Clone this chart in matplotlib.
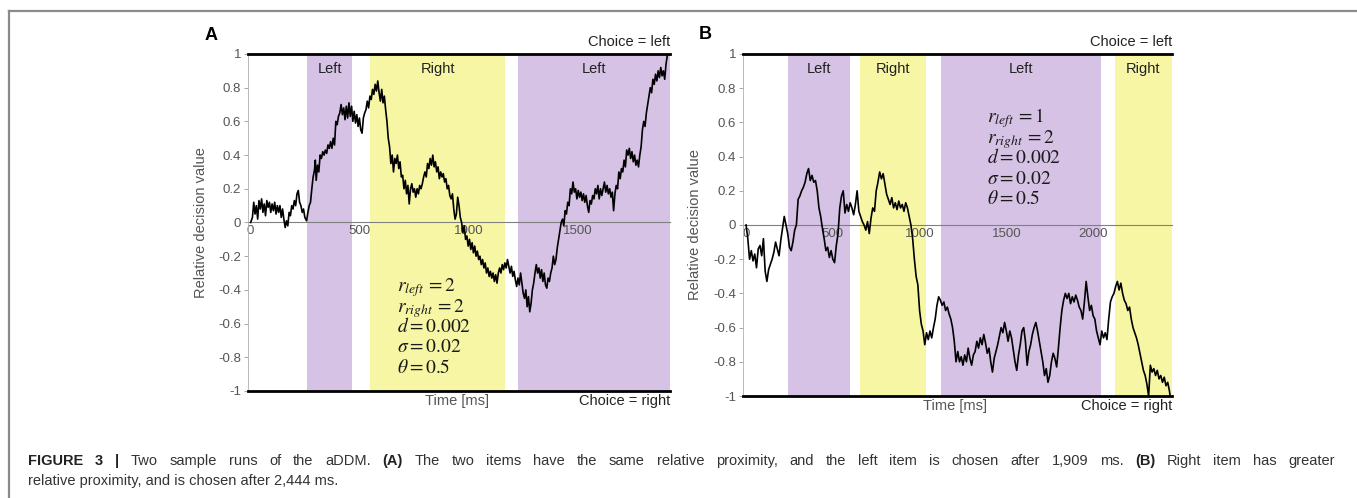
import matplotlib
matplotlib.use("Agg")
import matplotlib.pyplot as plt
from matplotlib.lines import Line2D

plt.rcParams["font.family"] = ["Liberation Sans", "DejaVu Sans"]
plt.rcParams["mathtext.fontset"] = "stix"

# ---- panel A: equal proximity, left chosen after 1909 ms ----
a_ms = [
    0, 8, 14, 20, 26, 32, 38, 44, 50, 56,
    62, 68, 74, 80, 86, 92, 98, 104, 110, 116,
    122, 128, 134, 140, 146, 152, 158, 164, 170, 176,
    182, 188, 194, 200, 206, 212, 218, 224, 230, 236,
    242, 248, 256, 262, 268, 274, 280, 286, 292, 296,
    300, 306, 312, 318, 324, 330, 336, 342, 348, 354,
    360, 366, 372, 378, 384, 390, 396, 402, 408, 414,
    420, 426, 432, 438, 444, 450, 456, 462, 468, 474,
    480, 486, 492, 498, 504, 510, 516, 522, 528, 534,
    540, 546, 552, 558, 564, 570, 576, 582, 588, 594,
    600, 606, 612, 618, 624, 630, 636, 642, 648, 654,
    660, 666, 672, 678, 684, 690, 696, 702, 708, 714,
    720, 726, 732, 738, 744, 750, 756, 762, 768, 774,
    780, 786, 792, 798, 804, 810, 816, 822, 828, 834,
    840, 846, 852, 858, 864, 870, 876, 882, 888, 894,
    900, 906, 912, 918, 924, 930, 936, 942, 948, 954,
    960, 966, 972, 978, 984, 990, 996, 1002, 1008, 1014,
    1020, 1026, 1032, 1038, 1044, 1050, 1056, 1062, 1068, 1074,
    1080, 1086, 1092, 1098, 1104, 1110, 1116, 1122, 1128, 1134,
    1140, 1146, 1152, 1158, 1164, 1170, 1176, 1182, 1188, 1194,
    1200, 1206, 1212, 1218, 1224, 1230, 1236, 1242, 1248, 1254,
    1260, 1266, 1272, 1278, 1284, 1290, 1296, 1302, 1308, 1314,
    1320, 1326, 1332, 1338, 1344, 1350, 1356, 1362, 1368, 1374,
    1380, 1386, 1392, 1398, 1404, 1410, 1416, 1422, 1428, 1434,
    1440, 1446, 1452, 1458, 1464, 1470, 1476, 1482, 1488, 1494,
    1500, 1506, 1512, 1518, 1524, 1530, 1536, 1542, 1548, 1554,
    1560, 1566, 1572, 1578, 1584, 1590, 1596, 1602, 1608, 1614,
    1620, 1626, 1632, 1638, 1644, 1650, 1656, 1662, 1668, 1674,
    1680, 1686, 1692, 1698, 1704, 1710, 1716, 1722, 1728, 1734,
    1740, 1746, 1752, 1758, 1764, 1770, 1776, 1782, 1788, 1794,
    1800, 1806, 1812, 1818, 1824, 1830, 1836, 1842, 1848, 1854,
    1860, 1866, 1872, 1878, 1884, 1890, 1896, 1902, 1909,
]
a_rdv = [
    0.00, 0.03, 0.12, 0.05, 0.10, 0.02, 0.13, 0.08, 0.14, 0.06,
    0.11, 0.04, 0.13, 0.09, 0.12, 0.06, 0.11, 0.07, 0.12, 0.05,
    0.10, 0.06, 0.10, 0.03, 0.08, 0.02, -0.03, 0.01, -0.02, 0.06,
    0.04, 0.10, 0.08, 0.13, 0.10, 0.17, 0.19, 0.12, 0.10, 0.06,
    0.08, 0.03, 0.01, 0.06, 0.10, 0.12, 0.20, 0.27, 0.31, 0.37,
    0.25, 0.34, 0.30, 0.40, 0.38, 0.42, 0.40, 0.43, 0.41, 0.46,
    0.44, 0.48, 0.44, 0.50, 0.46, 0.60, 0.58, 0.63, 0.65, 0.70,
    0.64, 0.68, 0.61, 0.69, 0.62, 0.71, 0.63, 0.69, 0.60, 0.66,
    0.59, 0.64, 0.57, 0.62, 0.55, 0.53, 0.62, 0.65, 0.67, 0.72,
    0.68, 0.75, 0.73, 0.79, 0.76, 0.82, 0.78, 0.84, 0.77, 0.72,
    0.79, 0.71, 0.75, 0.67, 0.60, 0.50, 0.45, 0.35, 0.40, 0.30,
    0.38, 0.35, 0.40, 0.32, 0.36, 0.27, 0.28, 0.20, 0.25, 0.17,
    0.22, 0.11, 0.20, 0.23, 0.18, 0.20, 0.15, 0.20, 0.17, 0.22,
    0.20, 0.23, 0.27, 0.30, 0.27, 0.35, 0.32, 0.38, 0.34, 0.40,
    0.33, 0.36, 0.30, 0.33, 0.26, 0.30, 0.27, 0.29, 0.24, 0.26,
    0.20, 0.22, 0.16, 0.14, 0.17, 0.08, 0.02, 0.05, 0.15, 0.10,
    0.03, 0.00, -0.06, -0.02, -0.10, -0.08, -0.14, -0.10, -0.16, -0.12,
    -0.18, -0.14, -0.20, -0.17, -0.22, -0.20, -0.25, -0.22, -0.27, -0.24,
    -0.30, -0.27, -0.32, -0.29, -0.33, -0.30, -0.35, -0.31, -0.36, -0.30,
    -0.27, -0.30, -0.25, -0.28, -0.24, -0.27, -0.22, -0.26, -0.30, -0.26,
    -0.32, -0.29, -0.34, -0.38, -0.33, -0.37, -0.30, -0.36, -0.42, -0.45,
    -0.40, -0.50, -0.44, -0.53, -0.48, -0.40, -0.36, -0.30, -0.25, -0.30,
    -0.27, -0.33, -0.28, -0.35, -0.30, -0.37, -0.39, -0.33, -0.35, -0.30,
    -0.27, -0.20, -0.25, -0.22, -0.15, -0.10, -0.05, 0.00, 0.02, -0.02,
    0.07, 0.05, 0.12, 0.10, 0.20, 0.17, 0.24, 0.18, 0.20, 0.14,
    0.19, 0.15, 0.18, 0.13, 0.17, 0.12, 0.16, 0.10, 0.06, 0.13,
    0.11, 0.16, 0.14, 0.20, 0.17, 0.22, 0.14, 0.20, 0.16, 0.20,
    0.24, 0.18, 0.22, 0.17, 0.20, 0.15, 0.18, 0.07, 0.17, 0.22,
    0.20, 0.30, 0.26, 0.32, 0.30, 0.37, 0.33, 0.43, 0.40, 0.44,
    0.38, 0.42, 0.36, 0.40, 0.34, 0.37, 0.33, 0.40, 0.45, 0.55,
    0.60, 0.57, 0.65, 0.70, 0.75, 0.80, 0.77, 0.85, 0.82, 0.88,
    0.84, 0.90, 0.86, 0.92, 0.87, 0.90, 0.85, 0.94, 1.00,
]
a_fix_start = [256, 547, 1224]
a_fix_end = [466, 1166, 1920]
a_fix_item = ["Left", "Right", "Left"]
a_xticks = [0, 500, 1000, 1500]
a_params = [r"$r_{left}\,=2$", r"$r_{right}\,=2$", r"$d=0.002$",
            r"$\sigma=0.02$", r"$\theta=0.5$"]

# ---- panel B: right item closer, right chosen after 2444 ms ----
b_ms = [
    0, 10, 20, 30, 40, 50, 60, 70, 80, 90,
    100, 110, 120, 130, 140, 150, 160, 170, 180, 190,
    200, 210, 220, 230, 240, 250, 260, 270, 280, 290,
    300, 310, 320, 330, 340, 350, 360, 370, 380, 390,
    400, 410, 420, 430, 440, 450, 460, 470, 480, 490,
    500, 510, 520, 530, 540, 550, 560, 570, 580, 590,
    600, 610, 620, 630, 640, 650, 660, 670, 680, 690,
    700, 710, 720, 730, 740, 750, 760, 770, 780, 790,
    800, 810, 820, 830, 840, 850, 860, 870, 880, 890,
    900, 910, 920, 930, 940, 950, 960, 970, 980, 990,
    1000, 1010, 1020, 1030, 1040, 1050, 1060, 1070, 1080, 1090,
    1100, 1110, 1120, 1130, 1140, 1150, 1160, 1170, 1180, 1190,
    1200, 1210, 1220, 1230, 1240, 1250, 1260, 1270, 1280, 1290,
    1300, 1310, 1320, 1330, 1340, 1350, 1360, 1370, 1380, 1390,
    1400, 1410, 1420, 1430, 1440, 1450, 1460, 1470, 1480, 1490,
    1500, 1510, 1520, 1530, 1540, 1550, 1560, 1570, 1580, 1590,
    1600, 1610, 1620, 1630, 1640, 1650, 1660, 1670, 1680, 1690,
    1700, 1710, 1720, 1730, 1740, 1750, 1760, 1770, 1780, 1790,
    1800, 1810, 1820, 1830, 1840, 1850, 1860, 1870, 1880, 1890,
    1900, 1910, 1920, 1930, 1940, 1950, 1960, 1970, 1980, 1990,
    2000, 2010, 2020, 2030, 2040, 2050, 2060, 2070, 2080, 2090,
    2100, 2110, 2120, 2130, 2140, 2150, 2160, 2170, 2180, 2190,
    2200, 2210, 2220, 2230, 2240, 2250, 2260, 2270, 2280, 2290,
    2300, 2310, 2320, 2330, 2340, 2350, 2360, 2370, 2380, 2390,
    2400, 2410, 2420, 2430, 2440, 2444,
]
b_rdv = [
    0.00, -0.08, -0.20, -0.15, -0.21, -0.17, -0.25, -0.14, -0.12, -0.18,
    -0.08, -0.27, -0.33, -0.26, -0.23, -0.20, -0.16, -0.10, -0.14, -0.18,
    -0.09, -0.02, 0.05, 0.00, -0.05, -0.13, -0.15, -0.10, -0.03, 0.00,
    0.15, 0.17, 0.20, 0.22, 0.25, 0.30, 0.33, 0.26, 0.29, 0.25,
    0.26, 0.20, 0.10, 0.05, -0.02, -0.08, -0.15, -0.13, -0.19, -0.15,
    -0.20, -0.22, -0.12, -0.05, 0.10, 0.17, 0.20, 0.07, 0.12, 0.08,
    0.13, 0.10, 0.06, 0.12, 0.20, 0.08, 0.05, 0.02, 0.00, -0.03,
    0.02, -0.05, 0.04, 0.10, 0.08, 0.20, 0.25, 0.31, 0.27, 0.30,
    0.24, 0.18, 0.15, 0.12, 0.16, 0.10, 0.13, 0.09, 0.14, 0.10,
    0.12, 0.08, 0.13, 0.10, 0.05, 0.00, -0.08, -0.20, -0.30, -0.35,
    -0.50, -0.58, -0.62, -0.70, -0.63, -0.67, -0.62, -0.66, -0.60, -0.55,
    -0.47, -0.42, -0.44, -0.47, -0.45, -0.50, -0.48, -0.52, -0.55, -0.60,
    -0.68, -0.80, -0.74, -0.80, -0.77, -0.82, -0.76, -0.80, -0.72, -0.78,
    -0.82, -0.76, -0.74, -0.68, -0.72, -0.66, -0.70, -0.64, -0.69, -0.75,
    -0.72, -0.80, -0.86, -0.78, -0.74, -0.70, -0.65, -0.60, -0.63, -0.57,
    -0.62, -0.68, -0.62, -0.66, -0.73, -0.80, -0.85, -0.76, -0.70, -0.62,
    -0.60, -0.68, -0.82, -0.74, -0.70, -0.64, -0.60, -0.57, -0.62, -0.68,
    -0.74, -0.80, -0.88, -0.84, -0.92, -0.88, -0.80, -0.75, -0.78, -0.83,
    -0.72, -0.60, -0.50, -0.44, -0.40, -0.43, -0.40, -0.46, -0.42, -0.45,
    -0.41, -0.44, -0.48, -0.50, -0.55, -0.45, -0.33, -0.42, -0.50, -0.47,
    -0.53, -0.55, -0.62, -0.66, -0.70, -0.62, -0.66, -0.63, -0.67, -0.55,
    -0.45, -0.42, -0.40, -0.36, -0.33, -0.38, -0.34, -0.40, -0.44, -0.46,
    -0.50, -0.48, -0.55, -0.60, -0.63, -0.66, -0.70, -0.75, -0.80, -0.85,
    -0.88, -0.93, -1.00, -0.82, -0.86, -0.84, -0.88, -0.85, -0.90, -0.88,
    -0.92, -0.89, -0.94, -0.92, -0.97, -1.00,
]
b_fix_start = [243, 659, 1123, 2126]
b_fix_end = [601, 1036, 2044, 2455]
b_fix_item = ["Left", "Right", "Left", "Right"]
b_xticks = [0, 500, 1000, 1500, 2000]
b_params = [r"$r_{left}\,=1$", r"$r_{right}\,=2$", r"$d=0.002$",
            r"$\sigma=0.02$", r"$\theta=0.5$"]

yticks = [1, 0.8, 0.6, 0.4, 0.2, 0, -0.2, -0.4, -0.6, -0.8, -1]
ytick_labels = ["1", "0.8", "0.6", "0.4", "0.2", "0",
                "-0.2", "-0.4", "-0.6", "-0.8", "-1"]

fix_color = {"Left": "#d5c2e4", "Right": "#f7f6a4"}
grey_txt = "#555555"


def draw_panel(ax, ms, rdv, starts, ends, items, xticks, xlim,
               params, param_xy, letter):
    for s, e, it in zip(starts, ends, items):
        ax.axvspan(s, e, color=fix_color[it], lw=0, zorder=0)
        ax.text((s + e) / 2, 0.91, it, ha="center", va="center",
                fontsize=10.5, color="#222222")

    ax.plot(ms, rdv, color="black", lw=1.2, zorder=3)

    # barriers
    ax.axhline(1, color="black", lw=2, clip_on=False, zorder=4)
    ax.axhline(-1, color="black", lw=2, clip_on=False, zorder=4)

    ax.set_xlim(*xlim)
    ax.set_ylim(-1, 1)

    for sp in ["top", "right"]:
        ax.spines[sp].set_visible(False)
    ax.spines["left"].set_color("#b0b0b0")
    ax.spines["left"].set_linewidth(0.6)
    ax.spines["bottom"].set_position(("data", 0))
    ax.spines["bottom"].set_color("#808080")
    ax.spines["bottom"].set_linewidth(0.8)
    ax.spines["bottom"].set_zorder(2)

    ax.set_yticks(yticks)
    ax.set_yticklabels(ytick_labels)
    ax.tick_params(axis="y", length=3, width=0.6, color="#999999",
                   labelcolor=grey_txt, labelsize=9.5, pad=2)
    ax.set_xticks(xticks)
    ax.set_xticklabels([str(t) for t in xticks])
    ax.tick_params(axis="x", length=0, pad=2, labelcolor=grey_txt,
                   labelsize=9.5)

    ax.set_ylabel("Relative decision value", fontsize=10.5, color=grey_txt)
    ax.yaxis.set_label_coords(-0.095, 0.5)

    ax.text(1.0, 1.035, "Choice = left", transform=ax.transAxes,
            ha="right", va="center", fontsize=10.5, color="#222222")
    ax.text(1.0, -0.03, "Choice = right", transform=ax.transAxes,
            ha="right", va="center", fontsize=10.5, color="#222222")
    ax.text(0.495, -0.03, "Time [ms]", transform=ax.transAxes,
            ha="center", va="center", fontsize=10.5, color=grey_txt)
    ax.text(-0.088, 1.056, letter, transform=ax.transAxes,
            ha="center", va="center", fontsize=13, fontweight="bold")

    for i, p in enumerate(params):
        ax.annotate(p, xy=param_xy, xytext=(0, -20.3 * i),
                    textcoords="offset pixels", ha="left", va="baseline",
                    fontsize=14, color="#1a1a1a", zorder=5)


fig = plt.figure(figsize=(13.57, 4.98), dpi=100)

ax_a = fig.add_axes([0.1828, 0.2149, 0.3109, 0.6767])
ax_b = fig.add_axes([0.5475, 0.2048, 0.3162, 0.6868])

draw_panel(ax_a, a_ms, a_rdv, a_fix_start, a_fix_end, a_fix_item,
           a_xticks, (-12, 1920), a_params, (672, -0.41), "A")
draw_panel(ax_b, b_ms, b_rdv, b_fix_start, b_fix_end, b_fix_item,
           b_xticks, (-18, 2455), b_params, (1387, 0.598), "B")

# frame lines of the figure panel
fig.add_artist(Line2D([0.0066, 1.0], [0.978, 0.978], transform=fig.transFigure,
                      color="#8a8a8a", lw=1.6))
fig.add_artist(Line2D([0.0066, 0.0066], [0.0, 0.978], transform=fig.transFigure,
                      color="#8a8a8a", lw=1.6))

# caption: first line justified, second line left aligned
cap1 = [("FIGURE 3 |", True), ("Two sample runs of the aDDM.", False),
        ("(A)", True),
        ("The two items have the same relative proximity, and the left item "
         "is chosen after 1,909 ms.", False),
        ("(B)", True), ("Right item has greater", False)]
cap2 = "relative proximity, and is chosen after 2,444 ms."
cap_size = 10.5

fig_w = fig.get_figwidth() * fig.dpi
cap_left, cap_right = 28, 1335
renderer = fig.canvas.get_renderer()

words = []
for seg, bold in cap1:
    for w in seg.split():
        words.append(fig.text(0, 0.066, w, ha="left", va="baseline",
                              fontsize=cap_size,
                              fontweight="bold" if bold else "normal",
                              color="#222222" if bold else "#333333"))
widths = [t.get_window_extent(renderer).width for t in words]
gap = (cap_right - cap_left - sum(widths)) / (len(words) - 1)
x = cap_left
for t, w in zip(words, widths):
    t.set_x(x / fig_w)
    x += w + gap

fig.text(cap_left / fig_w, 0.026, cap2, ha="left", va="baseline",
         fontsize=cap_size, color="#333333")

fig.savefig("out.png", dpi=100)
